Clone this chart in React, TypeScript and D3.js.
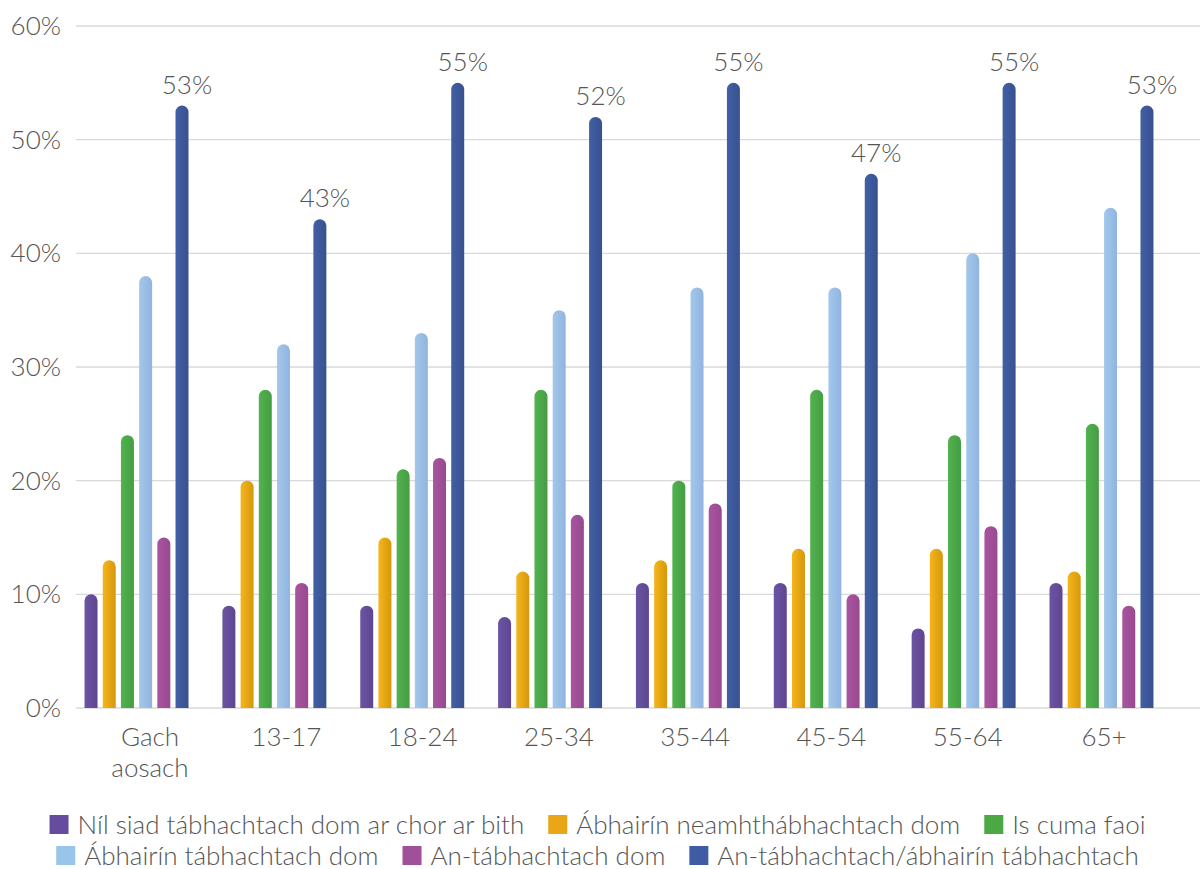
import React, { useEffect, useRef } from "react";
import * as d3 from "d3";

const categories = ["Gach aosach", "13-17", "18-24", "25-34", "35-44", "45-54", "55-64", "65+"];
const seriesNames = [
  "Níl siad tábhachtach dom ar chor ar bith",
  "Ábhairín neamhthábhachtach dom",
  "Is cuma faoi",
  "Ábhairín tábhachtach dom",
  "An-tábhachtach dom",
  "An-tábhachtach/ábhairín tábhachtach",
];
const nilSiad = [10, 9, 9, 8, 11, 11, 7, 11];
const neamh = [13, 20, 15, 12, 13, 14, 14, 12];
const isCuma = [24, 28, 21, 28, 20, 28, 24, 25];
const abhairinTabh = [38, 32, 33, 35, 37, 37, 40, 44];
const anTabh = [15, 11, 22, 17, 18, 10, 16, 9];
const combined = [53, 43, 55, 52, 55, 47, 55, 53];
const seriesValues = [nilSiad, neamh, isCuma, abhairinTabh, anTabh, combined];
const yTicks = [0, 10, 20, 30, 40, 50, 60];
const colorsLight = ["#6B54A3", "#F5B51C", "#52B34F", "#A3C8EA", "#A9559F", "#4260A6"];
const colorsDark = ["#5E4690", "#D6980C", "#449D42", "#90B4E0", "#974990", "#38518F"];
const legendColors = ["#654C9E", "#E9A717", "#4AA845", "#99C5EA", "#A0509B", "#3F5BA3"];

const W = 1200;
const H = 869;
const FONT = "Lato, 'Open Sans', sans-serif";
const TEXT = "#555555";

export default function App() {
  const ref = useRef<SVGSVGElement | null>(null);

  useEffect(() => {
    const svg = d3.select(ref.current);
    svg.selectAll("*").remove();

    const y = d3.scaleLinear().domain([0, 60]).range([708, 26]);
    const x0 = d3
      .scaleBand<string>()
      .domain(categories)
      .range([67.6, 1170.4])
      .paddingInner(0.208)
      .paddingOuter(0.104);
    const x1 = d3
      .scaleBand<number>()
      .domain(d3.range(seriesNames.length))
      .range([0, x0.bandwidth()])
      .paddingInner(0.286)
      .paddingOuter(0.143);
    const xLabel = d3.scalePoint<string>().domain(categories).range([150, 1104]);

    const defs = svg.append("defs");
    seriesNames.forEach((_, i) => {
      const g = defs
        .append("linearGradient")
        .attr("id", "grad" + i)
        .attr("x1", "0")
        .attr("x2", "1")
        .attr("y1", "0")
        .attr("y2", "0");
      g.append("stop").attr("offset", "0").attr("stop-color", colorsLight[i]);
      g.append("stop").attr("offset", "1").attr("stop-color", colorsDark[i]);
    });

    // gridlines
    svg
      .append("g")
      .selectAll("line")
      .data(yTicks)
      .join("line")
      .attr("x1", 76)
      .attr("x2", 1200)
      .attr("y1", (d) => y(d))
      .attr("y2", (d) => y(d))
      .attr("stroke", "#d9d9d9")
      .attr("stroke-width", 1.3);

    // y labels
    svg
      .append("g")
      .selectAll("text")
      .data(yTicks)
      .join("text")
      .attr("x", 61)
      .attr("y", (d) => y(d))
      .attr("dy", "0.35em")
      .attr("text-anchor", "end")
      .attr("font-family", FONT)
      .attr("font-weight", 300)
      .attr("font-size", 26)
      .attr("fill", TEXT)
      .text((d) => d + "%");

    // bars
    const bw = x1.bandwidth();
    const r = bw / 2;
    const groups = svg
      .append("g")
      .selectAll("g")
      .data(categories)
      .join("g")
      .attr("transform", (c) => `translate(${x0(c)},0)`);

    groups
      .selectAll("path")
      .data((c, ci) => seriesValues.map((vals, si) => ({ si, v: vals[ci] })))
      .join("path")
      .attr("fill", (d) => `url(#grad${d.si})`)
      .attr("d", (d) => {
        const xl = x1(d.si)!;
        const top = y(d.v);
        const bottom = y(0);
        const p = d3.path();
        p.moveTo(xl, bottom);
        p.lineTo(xl, top + r);
        p.arc(xl + r, top + r, r, Math.PI, 0);
        p.lineTo(xl + bw, bottom);
        p.closePath();
        return p.toString();
      });

    // data labels on last series
    svg
      .append("g")
      .selectAll("text")
      .data(categories)
      .join("text")
      .attr("x", (c) => x0(c)! + x1(5)! + bw / 2 + 5)
      .attr("y", (c, i) => y(combined[i]) - 21)
      .attr("dy", "0.35em")
      .attr("text-anchor", "middle")
      .attr("font-family", FONT)
      .attr("font-weight", 300)
      .attr("font-size", 26)
      .attr("fill", TEXT)
      .text((c, i) => combined[i] + "%");

    // x labels
    const xl = svg
      .append("g")
      .selectAll("text")
      .data(categories)
      .join("text")
      .attr("y", 737)
      .attr("text-anchor", "middle")
      .attr("font-family", FONT)
      .attr("font-weight", 300)
      .attr("font-size", 26)
      .attr("fill", TEXT);
    xl.each(function (c) {
      const words = c === "Gach aosach" ? ["Gach", "aosach"] : [c];
      const t = d3.select(this);
      words.forEach((w, wi) => {
        t.append("tspan")
          .attr("x", xLabel(c)!)
          .attr("dy", wi === 0 ? "0.35em" : "1.2em")
          .text(w);
      });
    });

    // legend
    const rows = [
      [0, 1, 2],
      [3, 4, 5],
    ];
    const rowY = [824.5, 855.5];
    const sq = 19;
    const gapSqText = 9;
    const gapItems = 24;
    rows.forEach((row, ri) => {
      const lg = svg.append("g");
      let cursor = 0;
      row.forEach((si) => {
        const item = lg.append("g").attr("transform", `translate(${cursor},0)`);
        item
          .append("rect")
          .attr("x", 0)
          .attr("y", rowY[ri] - sq / 2)
          .attr("width", sq)
          .attr("height", sq)
          .attr("fill", legendColors[si]);
        const t = item
          .append("text")
          .attr("x", sq + gapSqText)
          .attr("y", rowY[ri])
          .attr("dy", "0.35em")
          .attr("font-family", FONT)
          .attr("font-weight", 300)
          .attr("font-size", 26)
          .attr("fill", TEXT)
          .text(seriesNames[si]);
        const len = (t.node() as SVGTextElement).getComputedTextLength();
        cursor += sq + gapSqText + len + gapItems;
      });
      const total = cursor - gapItems;
      lg.attr("transform", `translate(${597.5 - total / 2},0)`);
    });
  }, []);

  return (
    <svg
      ref={ref}
      width={W}
      height={H}
      style={{ display: "block", position: "absolute", left: 0, top: 0, background: "#fff" }}
    />
  );
}
